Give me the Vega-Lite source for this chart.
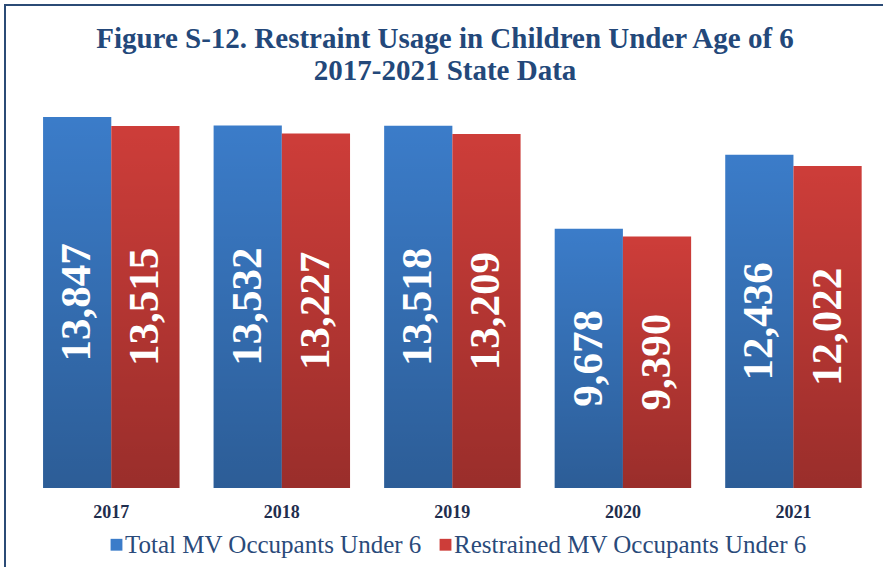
{
  "$schema": "https://vega.github.io/schema/vega-lite/v6.json",
  "autosize": {"type": "none"},
  "padding": {"left": 5, "top": 5, "right": 0, "bottom": 0},
  "width": 880,
  "height": 570,
  "background": "white",
  "config": {
    "view": {"stroke": "#2b4b76", "strokeWidth": 2},
    "font": "Liberation Serif",
    "legend": {"labelFont": "Liberation Serif"},
    "axis": {"labelFont": "Liberation Serif"}
  },
  "title": {
    "text": ["Figure S-12. Restraint Usage in Children Under Age of 6", "2017-2021 State Data"],
    "font": "Liberation Serif",
    "fontSize": 29,
    "fontWeight": "bold",
    "color": "#23487a",
    "anchor": "middle",
    "frame": "group",
    "offset": -81,
    "lineHeight": 32
  },
  "data": {
    "values": [
      {"year": "2017", "series": "Total MV Occupants Under 6", "value": 13847},
      {"year": "2017", "series": "Restrained MV Occupants Under 6", "value": 13515},
      {"year": "2018", "series": "Total MV Occupants Under 6", "value": 13532},
      {"year": "2018", "series": "Restrained MV Occupants Under 6", "value": 13227},
      {"year": "2019", "series": "Total MV Occupants Under 6", "value": 13518},
      {"year": "2019", "series": "Restrained MV Occupants Under 6", "value": 13209},
      {"year": "2020", "series": "Total MV Occupants Under 6", "value": 9678},
      {"year": "2020", "series": "Restrained MV Occupants Under 6", "value": 9390},
      {"year": "2021", "series": "Total MV Occupants Under 6", "value": 12436},
      {"year": "2021", "series": "Restrained MV Occupants Under 6", "value": 12022}
    ]
  },
  "encoding": {
    "x": {
      "field": "year",
      "type": "nominal",
      "scale": {"paddingInner": 0.2, "paddingOuter": 0.18, "align": 0.62},
      "axis": {
        "title": null,
        "labelAngle": 0,
        "domain": false,
        "ticks": false,
        "offset": -87,
        "labelPadding": 15,
        "labelFont": "Liberation Serif",
        "labelFontSize": 18,
        "labelFontWeight": "bold",
        "labelColor": "#1f2e4e"
      }
    },
    "xOffset": {
      "field": "series",
      "type": "nominal",
      "scale": {"domain": ["Total MV Occupants Under 6", "Restrained MV Occupants Under 6"]}
    }
  },
  "layer": [
    {
      "mark": {"type": "bar"},
      "encoding": {
        "y": {
          "field": "value",
          "type": "quantitative",
          "scale": {"domain": [-3247, 18027], "nice": false, "zero": false},
          "axis": null
        },
        "color": {
          "field": "series",
          "type": "nominal",
          "scale": {
            "domain": ["Total MV Occupants Under 6", "Restrained MV Occupants Under 6"],
            "range": ["#3b7cc9", "#cd3d39"]
          },
          "legend": {
            "title": null,
            "orient": "none",
            "legendX": 99,
            "legendY": 527,
            "direction": "horizontal",
            "symbolType": "square",
            "symbolSize": 140,
            "symbolStrokeWidth": 0,
            "labelFont": "Liberation Serif",
            "labelFontSize": 25,
            "labelColor": "#2a4a7a",
            "labelLimit": 500,
            "columnPadding": 11,
            "labelOffset": -4,
            "padding": 0
          }
        }
      }
    },
    {
      "mark": {
        "type": "bar",
        "fill": {
          "gradient": "linear",
          "x1": 0, "y1": 0, "x2": 0, "y2": 1,
          "stops": [
            {"offset": 0, "color": "rgba(0,0,0,0)"},
            {"offset": 1, "color": "rgba(0,0,0,0.25)"}
          ]
        }
      },
      "encoding": {
        "y": {"field": "value", "type": "quantitative"}
      }
    },
    {
      "transform": [{"calculate": "datum.value / 2", "as": "mid"}],
      "mark": {
        "type": "text",
        "angle": 270,
        "align": "center",
        "baseline": "middle",
        "font": "Liberation Serif",
        "fontSize": 43,
        "fontWeight": "bold",
        "color": "white"
      },
      "encoding": {
        "y": {"field": "mid", "type": "quantitative"},
        "text": {"field": "value", "type": "quantitative", "format": ","}
      }
    }
  ]
}
